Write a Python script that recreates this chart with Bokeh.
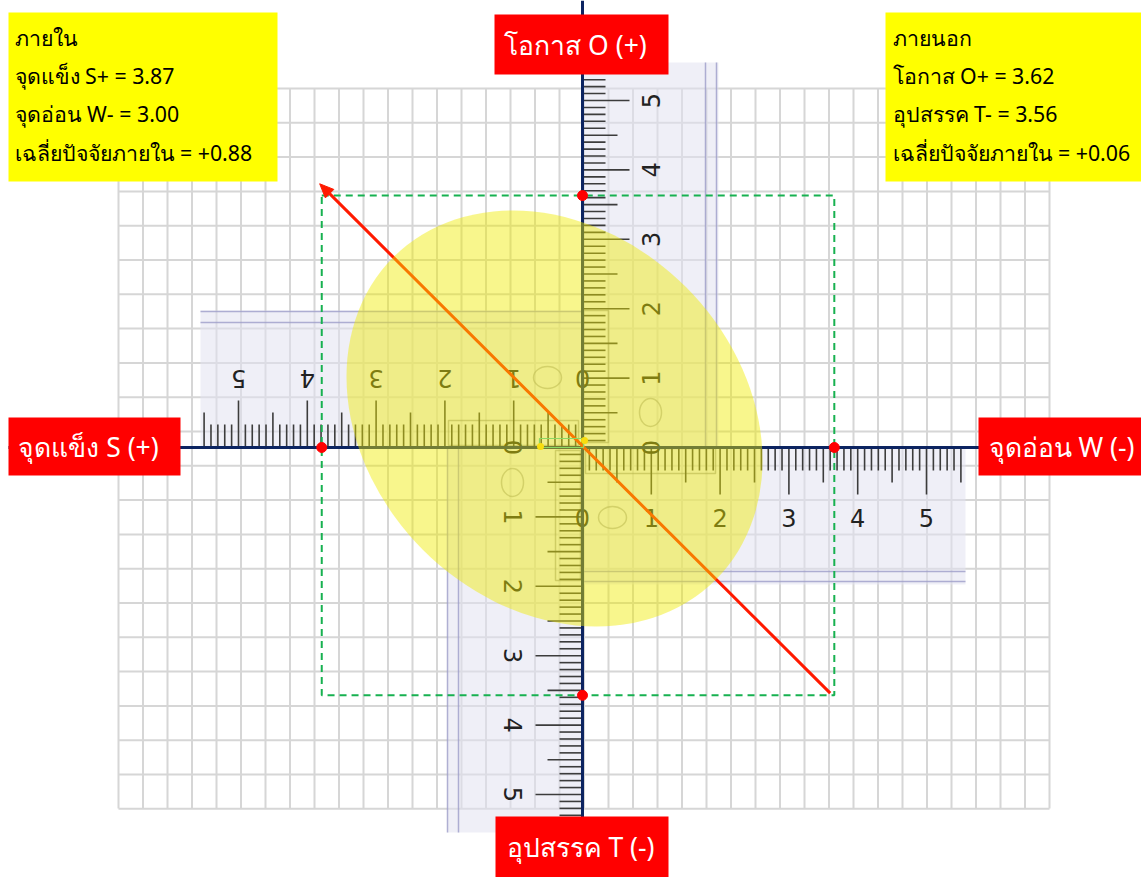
import numpy as np
from bokeh.plotting import figure
from bokeh.models import Range1d
from bokeh.core.properties import value
from bokeh.embed import file_html
from bokeh.resources import INLINE

# ---------------- data ----------------
factors = ["S", "W", "O", "T"]
factor_scores = [3.87, 3.00, 3.62, 3.56]
internal_avg = 0.88
external_avg = 0.06
# plotted positions of the four factor points
point_x = [-3.79, 3.66, 0.0, 0.0]
point_y = [0.0, 0.0, 3.63, -3.57]
# strategy arrow: tail -> head
arrow_x = [3.60, -3.82]
arrow_y = [-3.54, 3.80]
ruler_labels = ["0", "1", "2", "3", "4", "5"]
axis_titles = ["โอกาส O (+)", "อุปสรรค T (-)", "จุดแข็ง S (+)", "จุดอ่อน W (-)"]
internal_lines = ["ภายใน",
                  f"จุดแข็ง S+ = {factor_scores[0]:.2f}",
                  f"จุดอ่อน W- = {factor_scores[1]:.2f}",
                  f"เฉลี่ยปัจจัยภายใน = +{internal_avg:.2f}"]
external_lines = ["ภายนอก",
                  f"โอกาส O+ = {factor_scores[2]:.2f}",
                  f"อุปสรรค T- = {factor_scores[3]:.2f}",
                  f"เฉลี่ยปัจจัยภายใน = +{external_avg:.2f}"]

# ---------------- layout helpers (page pixels -> data units) ----------------
OXp, OYp = 582.0, 447.0
UX, UY = 68.8, 69.4


def X(px):
    return (np.asarray(px, dtype=float) - OXp) / UX


def Y(py):
    return (OYp - np.asarray(py, dtype=float)) / UY


def PX(x):
    return OXp + np.asarray(x, dtype=float) * UX


def PY(y):
    return OYp - np.asarray(y, dtype=float) * UY


W, H = 1141, 877
p = figure(width=W, height=H, x_range=Range1d(float(X(0)), float(X(W))),
           y_range=Range1d(float(Y(H)), float(Y(0))),
           output_backend="svg", toolbar_location=None, title=None,
           min_border=0, outline_line_color=None)
p.axis.visible = False
p.grid.visible = False
p.background_fill_color = "white"
p.border_fill_color = "white"

THAI = value("Noto Sans")

# ---------------- graph-paper grid ----------------
gx = 118 + 24.5 * np.arange(39)
gy = 88 + 34.3 * np.arange(22)
p.segment(x0=X(gx), y0=[float(Y(88))] * len(gx), x1=X(gx), y1=[float(Y(808))] * len(gx),
          line_color="#d6d6d6", line_width=2)
p.segment(x0=[float(X(118))] * len(gy), y0=Y(gy), x1=[float(X(1049))] * len(gy), y1=Y(gy),
          line_color="#d6d6d6", line_width=2)

# ---------------- rulers ----------------
bodies = [(582, 965, 447, 584), (200, 582, 310, 447), (582, 718, 62, 447), (447, 582, 447, 832)]
p.quad(left=[float(X(b[0])) for b in bodies], right=[float(X(b[1])) for b in bodies],
       top=[float(Y(b[2])) for b in bodies], bottom=[float(Y(b[3])) for b in bodies],
       fill_color="#e2e2f0", fill_alpha=0.55, line_color=None)
hl = [(582, 965, 571), (582, 965, 581), (200, 582, 311), (200, 582, 322)]
p.segment(x0=[float(X(a)) for a, b, c in hl], x1=[float(X(b)) for a, b, c in hl],
          y0=[float(Y(c)) for a, b, c in hl], y1=[float(Y(c)) for a, b, c in hl],
          line_color="#9c9cc8", line_width=1.5, line_alpha=0.8)
vl = [(62, 447, 705), (62, 447, 716), (447, 832, 447), (447, 832, 458)]
p.segment(y0=[float(Y(a)) for a, b, c in vl], y1=[float(Y(b)) for a, b, c in vl],
          x0=[float(X(c)) for a, b, c in vl], x1=[float(X(c)) for a, b, c in vl],
          line_color="#9c9cc8", line_width=1.5, line_alpha=0.8)
inner = [(585, 715, 448, 473), (448, 578, 420, 445), (583, 608, 310, 442), (555, 580, 450, 580)]
p.quad(left=[float(X(b[0])) for b in inner], right=[float(X(b[1])) for b in inner],
       top=[float(Y(b[2])) for b in inner], bottom=[float(Y(b[3])) for b in inner],
       fill_color=None, line_color="#8c8c8c", line_alpha=0.6, line_width=1.5)
p.ellipse(x=X([612, 547, 650, 512]), y=Y([517, 377, 412, 482]),
          width=[28, 28, 22, 22], height=[22, 22, 28, 28],
          width_units="screen", height_units="screen",
          fill_color=None, line_color="#9a9a9a", line_alpha=0.6, line_width=1.5)
k = np.arange(56)
tlen = np.where(k % 10 == 0, 47, np.where(k % 5 == 0, 35, 23)).astype(float)
t = k * 0.1
tx0 = np.concatenate([t, -t, np.zeros_like(t), np.zeros_like(t)])
ty0 = np.concatenate([np.zeros_like(t), np.zeros_like(t), t, -t])
tx1 = np.concatenate([t, -t, tlen / UX, -tlen / UX])
ty1 = np.concatenate([-tlen / UY, tlen / UY, t, -t])
p.segment(x0=tx0, y0=ty0, x1=tx1, y1=ty1, line_color="#3c3c3c", line_width=1.6)
nums = np.arange(len(ruler_labels), dtype=float)
rf = value("DejaVu Sans")
for xs, ys, ang in [(nums, [float(Y(517))] * 6, 0.0),
                    (-nums, [float(Y(378))] * 6, np.pi),
                    ([float(X(650))] * 6, nums, np.pi / 2),
                    ([float(X(512))] * 6, -nums, -np.pi / 2)]:
    p.text(x=xs, y=ys, text=ruler_labels, angle=ang, text_font=rf,
           text_font_size="24px", text_color="#222222", text_align="center", text_baseline="middle")

# ---------------- main axes ----------------
p.segment(x0=[float(X(8))], y0=[0.0], x1=[float(X(1141))], y1=[0.0], line_color="#0c2461", line_width=3)
p.segment(x0=[0.0], y0=[float(Y(0))], x1=[0.0], y1=[float(Y(877))], line_color="#0c2461", line_width=3)

# ---------------- dashed box of factor points ----------------
p.quad(left=[point_x[0]], right=[point_x[1]], top=[point_y[2]], bottom=[point_y[3]],
       fill_color=None, line_color="#17b150", line_width=2, line_dash="7 5")

# ---------------- arrow ----------------
tx, ty = PX(arrow_x), PY(arrow_y)
d = np.array([tx[1] - tx[0], ty[1] - ty[0]])
d = d / np.hypot(*d)
n = np.array([-d[1], d[0]])
tip = np.array([tx[1], ty[1]])
base = tip - 14 * d
p.segment(x0=[arrow_x[0]], y0=[arrow_y[0]], x1=[float(X(base[0]))], y1=[float(Y(base[1]))],
          line_color="#ff1a00", line_width=3)
hx = [tip[0], base[0] + 6 * n[0], base[0] - 6 * n[0]]
hy = [tip[1], base[1] + 6 * n[1], base[1] - 6 * n[1]]
p.patch(x=X(hx), y=Y(hy), fill_color="#ff1a00", line_color="#ff1a00")

# ---------------- factor points ----------------
p.scatter(x=point_x, y=point_y, size=10, fill_color="#ff0000", line_color="#ff0000")

p.quad(left=[float(X(539))], right=[float(X(583))], top=[float(Y(438))], bottom=[float(Y(447))],
       fill_color=None, line_color="#3cc8b4", line_width=1.2)
p.scatter(x=X([540, 584]), y=Y([446, 440]), size=7, fill_color="#ffd21a", line_color=None)

# ---------------- translucent ellipse ----------------
p.ellipse(x=[float(X(554))], y=[float(Y(418))], width=[456], height=[372],
          width_units="screen", height_units="screen", angle=-np.pi / 4,
          fill_color="#f0ec00", fill_alpha=0.45, line_color=None)

# ---------------- red axis title boxes ----------------
rb = [(494, 668, 14, 74), (495, 668, 816, 877), (8, 180, 417, 475), (978, 1141, 417, 475)]
p.quad(left=[float(X(b[0])) for b in rb], right=[float(X(b[1])) for b in rb],
       top=[float(Y(b[2])) for b in rb], bottom=[float(Y(b[3])) for b in rb],
       fill_color="#ff0000", line_color=None)
p.text(x=X([575, 580, 88, 1061]), y=Y([44, 846, 446, 446]), text=axis_titles,
       text_font=THAI, text_font_size="26.5px", text_color="white",
       text_align="center", text_baseline="middle")

# ---------------- yellow summary boxes ----------------
yb = [(8, 277, 12, 181), (885, 1141, 12, 181)]
p.quad(left=[float(X(b[0])) for b in yb], right=[float(X(b[1])) for b in yb],
       top=[float(Y(b[2])) for b in yb], bottom=[float(Y(b[3])) for b in yb],
       fill_color="#ffff00", line_color=None)
rows = [37, 75, 113, 152]
p.text(x=[float(X(14))] * 4, y=Y(rows), text=internal_lines, text_font=THAI,
       text_font_size="21.3px", text_color="black", text_align="left", text_baseline="middle")
p.text(x=[float(X(892))] * 4, y=Y(rows), text=external_lines, text_font=THAI,
       text_font_size="21.3px", text_color="black", text_align="left", text_baseline="middle")

open("out.html", "w").write(file_html(p, INLINE))
